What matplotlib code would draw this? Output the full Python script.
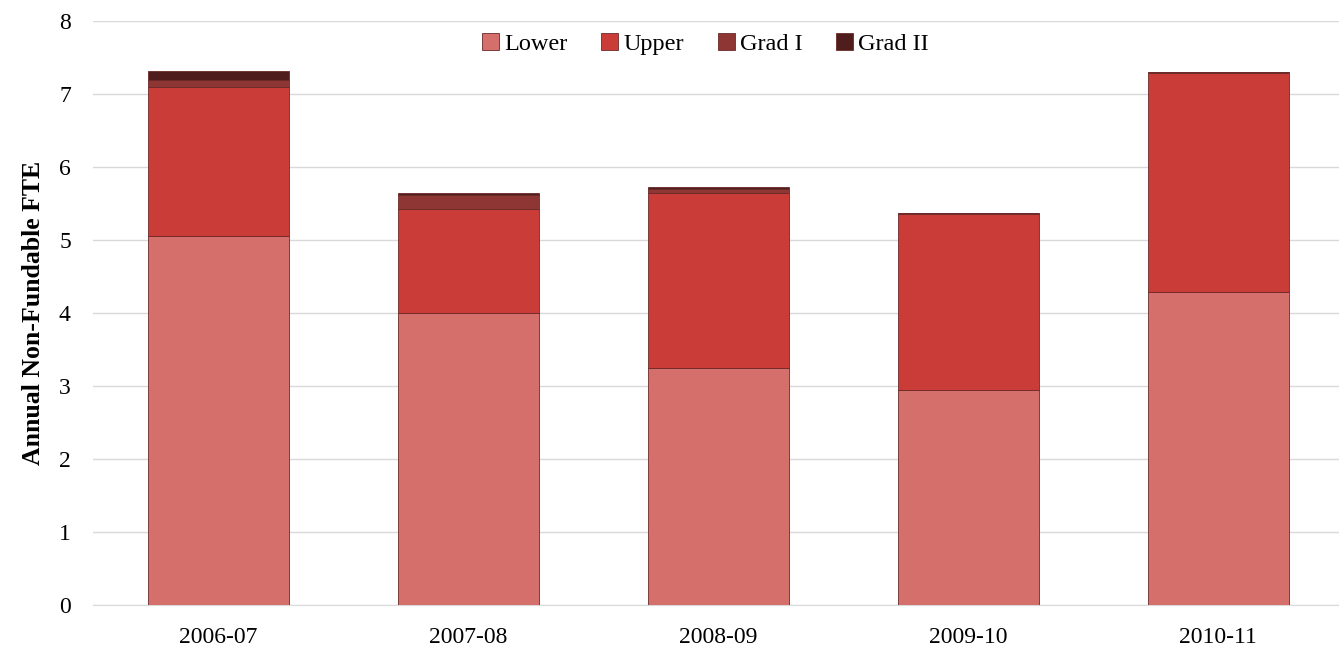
import matplotlib.pyplot as plt
import numpy as np

years = ['2006-07', '2007-08', '2008-09', '2009-10', '2010-11']
lower = [5.05, 4.00, 3.25, 2.95, 4.29]
upper = [2.04, 1.43, 2.39, 2.40, 3.00]
grad1 = [0.10, 0.18, 0.06, 0.02, 0.01]
grad2 = [0.12, 0.03, 0.03, 0.00, 0.00]

names = ['Lower', 'Upper', 'Grad I', 'Grad II']
colors = ['#D46F6B', '#C93C38', '#8E3634', '#4E1D1C']

plt.rcParams['font.family'] = ['Liberation Serif', 'DejaVu Serif']

fig = plt.figure(figsize=(13.39, 6.49), dpi=100)
ax = fig.add_axes([0.0695, 0.068, 0.9335, 0.8995])

x = np.arange(len(years))
bottom = np.zeros(len(years))
for vals, name, c in zip([lower, upper, grad1, grad2], names, colors):
    ax.bar(x, vals, 0.564, bottom=bottom, color=c, label=name,
           edgecolor='#6b2a28', linewidth=0.6, zorder=3)
    bottom += np.array(vals)

ax.set_ylim(0, 8)
ax.set_xlim(-0.5, len(years) - 0.5)
ax.set_xticks(x)
ax.set_xticklabels(years)
ax.set_yticks(range(0, 9))
ax.tick_params(length=0, labelsize=17)
ax.tick_params(axis='y', pad=16)
ax.tick_params(axis='x', pad=16)
ax.grid(axis='y', color='#d9d9d9', linewidth=1, zorder=0)
for s in ['top', 'right', 'left']:
    ax.spines[s].set_visible(False)
ax.spines['bottom'].set_color('#d9d9d9')

ax.set_ylabel('Annual Non-Fundable FTE', fontsize=18.5, fontweight='bold', labelpad=10)

ax.legend(loc='upper center', bbox_to_anchor=(0.49, 1.017), ncol=4, frameon=False,
          fontsize=17.5, handlelength=0.7, handleheight=0.7, handletextpad=0.2,
          columnspacing=1.4)

fig.savefig('out.png', dpi=100)
